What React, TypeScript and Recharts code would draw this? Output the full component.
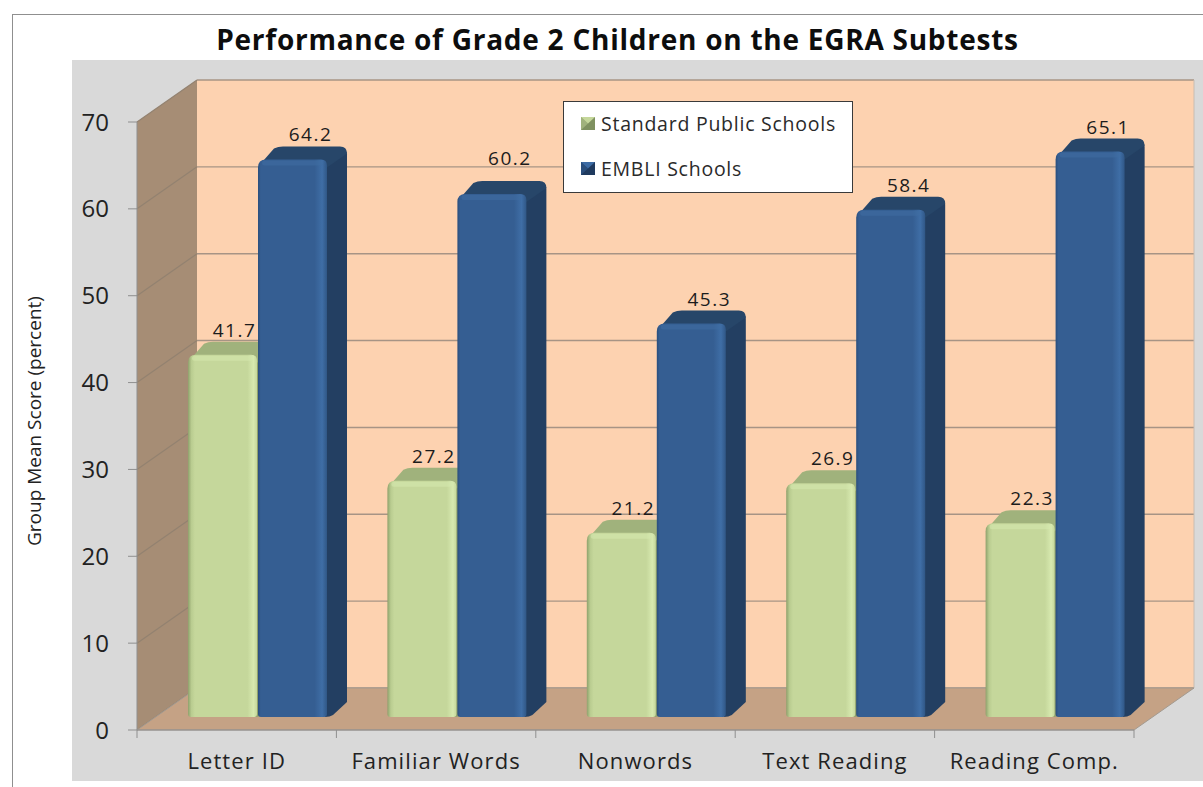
import React from "react";
import { BarChart, Bar, XAxis, YAxis, ReferenceArea, Legend, LabelList } from "recharts";

const categories = ["Letter ID", "Familiar Words", "Nonwords", "Text Reading", "Reading Comp."];
const standardSchools = [41.7, 27.2, 21.2, 26.9, 22.3];
const embliSchools = [64.2, 60.2, 45.3, 58.4, 65.1];
const valueTicks = [0, 10, 20, 30, 40, 50, 60, 70];
const data = categories.map((name, i) => ({ name, standard: standardSchools[i], embli: embliSchools[i] }));

const FONT = "'Open Sans', sans-serif";
const WALL = { dx: 60, dy: -42 };
const FRONT = { dx: 21, dy: -13 };
const DEPTH = { dx: 20, dy: -13 };
const TONES: any = {
  green: { front: "url(#greenFront)", top: "#A0B27C", side: "#8FA16C", hi: "#D5E9AE" },
  blue: { front: "url(#blueFront)", top: "#274669", side: "#233F62", hi: "#3F6DA3" },
};

function Walls(props: any) {
  const { x, y, width, height } = props;
  const b = y + height;
  const r = x + width;
  const poly = (pts: number[][]) => pts.map((p) => p.join(",")).join(" ");
  const band = width / categories.length;
  return (
    <g>
      <polygon points={poly([[x, y], [x + WALL.dx, y + WALL.dy], [x + WALL.dx, b + WALL.dy], [x, b]])} fill="#A68D75" />
      <rect x={x + WALL.dx} y={y + WALL.dy} width={width} height={height} fill="#FDD2B0" />
      {valueTicks.map((v) => {
        const ly = b - (v / 70) * height;
        return (
          <g key={v}>
            <line x1={x} y1={ly} x2={x + WALL.dx} y2={ly + WALL.dy} stroke="#938270" strokeWidth={1.2} />
            <line x1={x + WALL.dx} y1={ly + WALL.dy} x2={r + WALL.dx} y2={ly + WALL.dy} stroke="#A79485" strokeWidth={1.4} />
          </g>
        );
      })}
      <line x1={r + WALL.dx} y1={y + WALL.dy} x2={r + WALL.dx} y2={b + WALL.dy} stroke="#C8BDB2" strokeWidth={1} />
      <polygon points={poly([[x, b], [x + WALL.dx, b + WALL.dy], [r + WALL.dx, b + WALL.dy], [r, b]])} fill="#C5A285" stroke="#A39A90" strokeWidth={1} />
      {categories.concat("").map((c, i) => (
        <line key={i} x1={x + i * band} y1={b} x2={x + i * band} y2={b + 8} stroke="#8f8f8f" strokeWidth={1} />
      ))}
    </g>
  );
}

function Bar3D(props: any) {
  const { x, y, width, height, tone } = props;
  if (!width || !height) return null;
  const t = TONES[tone];
  const fx = x + FRONT.dx;
  const fy = y + FRONT.dy;
  const r = fx + width;
  const b = fy + height;
  const top = `M${fx + 2},${fy + 5} L${fx + DEPTH.dx - 4},${fy + DEPTH.dy + 2} Q${fx + DEPTH.dx},${fy + DEPTH.dy} ${fx + DEPTH.dx + 5},${fy + DEPTH.dy} L${r + DEPTH.dx - 7},${fy + DEPTH.dy} Q${r + DEPTH.dx},${fy + DEPTH.dy} ${r + DEPTH.dx},${fy + DEPTH.dy + 7} L${r},${fy + 8} Z`;
  const side = `M${r - 1},${fy + 4} L${r + DEPTH.dx - 5},${fy + DEPTH.dy + 4} Q${r + DEPTH.dx},${fy + DEPTH.dy + 3} ${r + DEPTH.dx},${fy + DEPTH.dy + 8} L${r + DEPTH.dx},${b + DEPTH.dy - 2} L${r + 6},${b - 2} Q${r + 3},${b} ${r - 2},${b} Z`;
  const front = `M${fx},${fy + 8} Q${fx},${fy} ${fx + 8},${fy} L${r - 6},${fy} Q${r},${fy} ${r},${fy + 6} L${r},${b - 3} Q${r},${b} ${r - 3},${b} L${fx + 3},${b} Q${fx},${b} ${fx},${b - 3} Z`;
  return (
    <g>
      <path d={side} fill={t.side} />
      <path d={top} fill={t.top} />
      <path d={front} fill={t.front} />
      <rect x={fx + 4} y={fy + 1} width={width - 8} height={5} rx={2.5} fill={t.hi} opacity={0.55} />
    </g>
  );
}

function valueLabel(lift: number, shift: number) {
  return (props: any) => {
    const { x, y, width, value } = props;
    const extra = value === 60.2 ? 11 : 0;
    return (
      <text x={x + FRONT.dx + width / 2 + shift} y={y + FRONT.dy + DEPTH.dy - lift - extra} textAnchor="middle" fontFamily={FONT} fontSize={19} letterSpacing={1.5} fill="#1c1c1c">
        {value.toFixed(1)}
      </text>
    );
  };
}

function Swatch({ tone }: { tone: string }) {
  const c = tone === "green" ? ["#7F9160", "#C5D79B", "#A0B27C"] : ["#1F3A5E", "#3C6BA4", "#2A4E7C"];
  return (
    <svg width={14} height={13} style={{ display: "block" }}>
      <rect width={14} height={13} fill={c[0]} />
      <polygon points="0,0 7,6.5 0,13" fill={c[2]} />
      <polygon points="0,0 14,0 7,6.5" fill={c[1]} />
    </svg>
  );
}

function LegendBox(props: any) {
  const items = props.payload || [];
  return (
    <div style={{ width: 290, height: 92, boxSizing: "border-box", background: "#fff", border: "1px solid #3a3a3a", position: "relative", fontFamily: FONT, fontSize: 19.5, letterSpacing: 0.75, color: "#2a2a2a" }}>
      {items.map((it: any, i: number) => (
        <div key={it.value} style={{ position: "absolute", left: 17, top: 8 + i * 45, height: 26, display: "flex", alignItems: "center", whiteSpace: "nowrap" }}>
          <Swatch tone={it.dataKey === "standard" ? "green" : "blue"} />
          <span style={{ marginLeft: 6 }}>{it.value}</span>
        </div>
      ))}
    </div>
  );
}

export default function App() {
  return (
    <div style={{ position: "absolute", left: 0, top: 0, width: 1203, height: 787, background: "#fff", overflow: "hidden" }}>
      <div style={{ position: "absolute", left: 12, top: 14, width: 1200, height: 800, border: "1px solid #8f8f8f" }} />
      <div style={{ position: "absolute", left: 72, top: 60, width: 1131, height: 721, background: "#D9D9D9" }} />
      <div style={{ position: "absolute", left: 0, top: 20, width: 1235, textAlign: "center", fontFamily: FONT, fontWeight: 700, fontSize: 28, letterSpacing: 0.75, color: "#0d0d0d", whiteSpace: "nowrap" }}>
        Performance of Grade 2 Children on the EGRA Subtests
      </div>
      <div style={{ position: "absolute", left: 0, top: 0 }}>
        <BarChart width={1203} height={787} data={data} margin={{ top: 122, right: 69, bottom: 7, left: 20 }} barSize={69} barGap={1} barCategoryGap={0}>
          <defs>
            <linearGradient id="greenFront" x1="0" x2="1" y1="0" y2="0">
              <stop offset="0" stopColor="#8FA16C" />
              <stop offset="0.05" stopColor="#B9CC90" />
              <stop offset="0.1" stopColor="#C5D79B" />
              <stop offset="0.86" stopColor="#C5D79B" />
              <stop offset="0.95" stopColor="#D7E9AF" />
              <stop offset="1" stopColor="#C5D79B" />
            </linearGradient>
            <linearGradient id="blueFront" x1="0" x2="1" y1="0" y2="0">
              <stop offset="0" stopColor="#2A4E7C" />
              <stop offset="0.04" stopColor="#355E92" />
              <stop offset="0.82" stopColor="#355E92" />
              <stop offset="0.93" stopColor="#3F6EA6" />
              <stop offset="1" stopColor="#305786" />
            </linearGradient>
          </defs>
          <ReferenceArea y1={0} y2={70} shape={<Walls />} ifOverflow="visible" />
          <XAxis dataKey="name" height={50} tickSize={8} tickMargin={15} interval={0} axisLine={{ stroke: "#8f8f8f" }} tickLine={false} tick={{ fontFamily: FONT, fontSize: 22, letterSpacing: 1.1, fill: "#222" }} padding={{ left: 0, right: 0 }} />
          <YAxis domain={[0, 70]} ticks={valueTicks} width={117} tickSize={9} tickMargin={19} axisLine={{ stroke: "#8f8f8f" }} tickLine={{ stroke: "#8f8f8f" }} tick={{ fontFamily: FONT, fontSize: 24, fill: "#222" }} label={{ value: "Group Mean Score (percent)", angle: -90, position: "insideLeft", offset: 0, dx: 14, dy: 120, style: { fontFamily: FONT, fontSize: 19, fill: "#222" } }} />
          <Legend layout="vertical" align="center" verticalAlign="middle" itemSorter={null as any} wrapperStyle={{ left: 563, top: 101, width: 290, height: 92 }} content={<LegendBox />} />
          <Bar dataKey="standard" name="Standard Public Schools" isAnimationActive={false} shape={<Bar3D tone="green" />} fill="#C5D79B">
            <LabelList dataKey="standard" content={valueLabel(5, 12) as any} />
          </Bar>
          <Bar dataKey="embli" name="EMBLI Schools" isAnimationActive={false} shape={<Bar3D tone="blue" />} fill="#355E92">
            <LabelList dataKey="embli" content={valueLabel(5, 18) as any} />
          </Bar>
        </BarChart>
      </div>
    </div>
  );
}
